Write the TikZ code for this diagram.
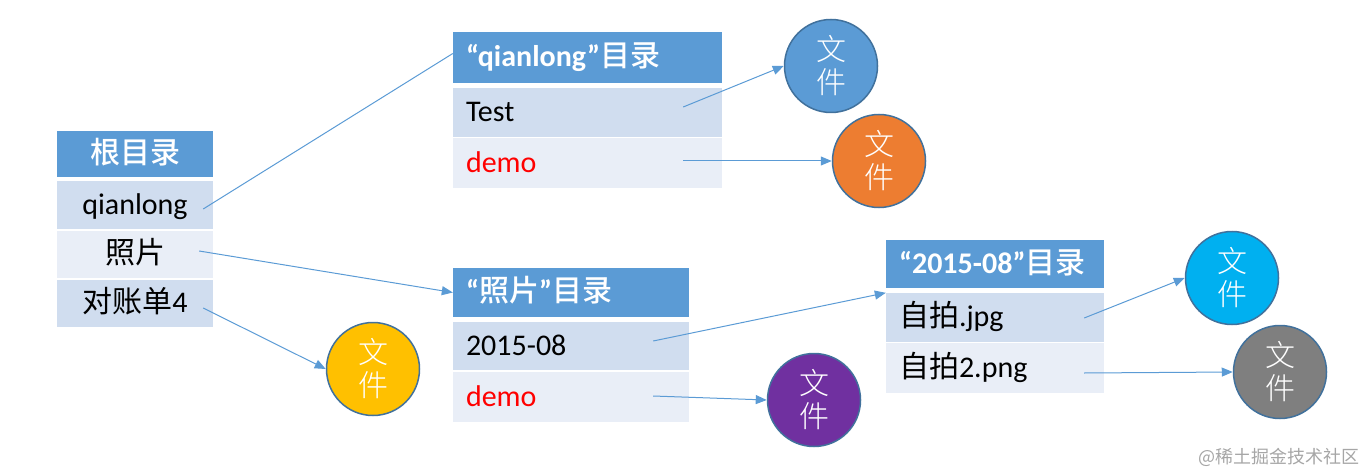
\documentclass[tikz,border=0pt]{standalone}
\usepackage{fontspec}
\setmainfont{Carlito}
\newfontfamily\zh{Noto Sans CJK SC}
\newfontfamily\zhlight{Noto Sans CJK SC Light}
\newfontfamily\zhmedfam{Noto Sans CJK SC Medium}
\newcommand\zhmed{\zhmedfam\mdseries}
\usetikzlibrary{calc,arrows.meta}
\definecolor{hdrblue}{HTML}{5B9BD5}
\definecolor{banddark}{HTML}{D0DDEF}
\definecolor{bandlight}{HTML}{E9EEF7}
\definecolor{ringblue}{HTML}{41719C}
\definecolor{fyellow}{HTML}{FFC000}
\definecolor{forange}{HTML}{ED7D31}
\definecolor{fpurple}{HTML}{7030A0}
\definecolor{fcyan}{HTML}{00B0F0}
\definecolor{fgray}{HTML}{7F7F7F}
\definecolor{redtext}{HTML}{FF0000}
\begin{document}
\begin{tikzpicture}[x=1pt,y=-1pt,
  cell/.style={rectangle, inner xsep=13pt, inner ysep=0pt, text height=20.5pt, text depth=2pt,
    font=\fontsize{30}{30}\selectfont},
  hdr/.style={cell, fill=hdrblue, text=white, font=\fontsize{30}{30}\selectfont\bfseries},
  oddrow/.style={cell, fill=banddark},
  evenrow/.style={cell, fill=bandlight},
  rootw/.style={text width=130pt, align=center},
  t2w/.style={text width=243pt, align=left},
  t3w/.style={text width=210pt, align=left},
  t4w/.style={text width=192pt, align=left},
  filenode/.style={circle, draw=ringblue, line width=1.5pt, minimum size=93pt, inner sep=0pt,
    text=white, align=center, font=\zhlight\fontsize{30}{33}\selectfont},
  plainlink/.style={draw=hdrblue, line width=1pt},
  link/.style={plainlink, -{Triangle[length=11pt,width=9pt]}}
]
\useasboundingbox (0,0) rectangle (1367,473);

% root table
\node[hdr, rootw, minimum height=46pt] (rh) at (135,154) {\zhmed 根目录};
\node[oddrow, rootw, minimum height=47pt] (r1) at (135,205) {qianlong};
\node[evenrow, rootw, minimum height=47pt] (r2) at (135,254) {\zh 照片};
\node[oddrow, rootw, minimum height=47pt] (r3) at (135,303.5) {{\zh 对账单}4};

% qianlong table
\node[hdr, t2w, minimum height=51pt] (t2h) at (587.5,57.5) {“qianlong”{\zhmed 目录}};
\node[oddrow, t2w, minimum height=49pt] (t2r1) at (587.5,112.5) {Test};
\node[evenrow, t2w, minimum height=50pt, text=redtext] (t2r2) at (587.5,163) {demo};

% photo table
\node[hdr, t3w, minimum height=49pt] (t3h) at (571,292.5) {“{\zhmed 照片}”{\zhmed 目录}};
\node[oddrow, t3w, minimum height=48pt] (t3r1) at (571,346) {2015-08};
\node[evenrow, t3w, minimum height=50pt, text=redtext] (t3r2) at (571,397) {demo};

% 2015-08 table
\node[hdr, t4w, minimum height=48pt] (t4h) at (995,264) {“2015-08”{\zhmed 目录}};
\node[oddrow, t4w, minimum height=49pt] (t4r1) at (995,317.5) {{\zh 自拍}.jpg};
\node[evenrow, t4w, minimum height=50pt] (t4r2) at (995,368) {{\zh 自拍}2.png};

% files
\node[filenode, fill=fyellow] (cy) at (373,369) {文\\件};
\node[filenode, fill=hdrblue] (cb) at (831,66) {文\\件};
\node[filenode, fill=forange] (co) at (879,161) {文\\件};
\node[filenode, fill=fpurple] (cpu) at (814,400) {文\\件};
\node[filenode, fill=fcyan] (cc) at (1232,278) {文\\件};
\node[filenode, fill=fgray] (cg) at (1280,372) {文\\件};

% connectors
\draw[plainlink] ($(r1.east)+(-10,4)$) -- ($(t2h.west)+(0,-4)$);
\draw[link] ($(r2.east)+(-14,-3)$) -- (t3h.west);
\draw[link] ($(r3.east)+(-10,4.5)$) -- (cy.west);
\draw[link] ($(t2r1.east)+(-39,-5.5)$) -- (cb.west);
\draw[link] ($(t2r2.east)+(-39,-2)$) -- (co.west);
\draw[link] ($(t3r1.east)+(-36,-5)$) -- (t4r1.north west);
\draw[link] ($(t3r2.east)+(-36,-1)$) -- (cpu.west);
\draw[link] ($(t4r1.east)+(-20,0.5)$) -- (cc.west);
\draw[link] ($(t4r2.east)+(-20,5)$) -- (cg.west);

% watermark
\node[anchor=base east, inner sep=0pt, text=black!35, font=\zh\fontsize{18}{18}\selectfont] (wm) at (1360,463) {@稀土掘金技术社区};
\end{tikzpicture}
\end{document}
